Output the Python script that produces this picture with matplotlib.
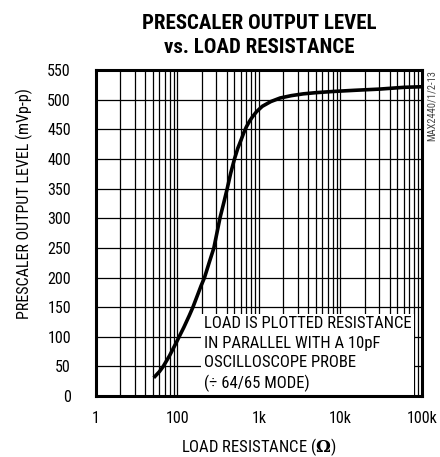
import matplotlib
matplotlib.use('Agg')
import matplotlib.pyplot as plt
from matplotlib import font_manager
from matplotlib.ticker import FixedLocator, NullFormatter

# narrow sans like the datasheet font; take the first one that is installed
installed = {f.name for f in font_manager.fontManager.ttflist}
narrow = [n for n in ['Liberation Sans Narrow', 'Arial Narrow', 'Roboto Condensed',
                      'Archivo Narrow', 'PT Sans Narrow', 'Asap Condensed']
          if n in installed]
plt.rcParams['font.family'] = narrow[:1] + ['DejaVu Sans']
plt.rcParams['mathtext.fontset'] = 'dejavuserif'

# curve (load resistance in ohms, output in mVp-p)
load_ohm = [53, 60, 67, 80, 95, 105, 120, 140, 155, 175, 195, 215, 245, 280,
            305, 332, 370, 408, 450, 501, 550, 603, 650, 700, 760, 830, 935,
            1100, 1400, 1820, 2500, 3500, 5000, 8100, 15000, 30000, 60000, 100000]
level_mv = [33, 41, 50, 68, 88, 100, 116, 136, 150, 169, 186, 200, 225, 250,
            275, 300, 326, 350, 376, 400, 418, 432, 444, 454, 463, 471, 480,
            489, 497, 503, 507, 510, 512, 514, 516, 518, 521, 522]

x_ticks = [10, 100, 1000, 10000, 100000]
x_ticklabels = ['1', '100', '1k', '10k', '100k']
y_ticks = list(range(0, 551, 50))

fig = plt.figure(figsize=(4.4, 4.57), dpi=100)
ax = fig.add_axes([0.218, 0.1335, 0.741, 0.713])

ax.plot(load_ohm, level_mv, color='black', lw=2.6, zorder=3)

ax.set_xscale('log')
ax.set_xlim(10, 100000)
ax.set_ylim(0, 550)
ax.xaxis.set_major_locator(FixedLocator(x_ticks))
ax.set_xticklabels(x_ticklabels)
ax.xaxis.set_minor_locator(FixedLocator(
    [m * d for d in [10, 100, 1000, 10000] for m in range(2, 10)]))
ax.xaxis.set_minor_formatter(NullFormatter())
ax.set_yticks(y_ticks)

ax.grid(True, which='both', color='black', lw=0.9)
ax.tick_params(which='both', length=0, labelsize=11.5)
ax.tick_params(axis='y', pad=18)
ax.tick_params(axis='x', pad=11)
for s in ax.spines.values():
    s.set_linewidth(2.2)
    s.set_zorder(5)

ax.set_xlabel('LOAD RESISTANCE ($\\mathbf{\\Omega}$)', fontsize=12, labelpad=7)
ax.set_ylabel('PRESCALER OUTPUT LEVEL (mVp-p)', fontsize=11.5)
ax.yaxis.set_label_coords(-0.193, 0.592)
ax.set_title('PRESCALER OUTPUT LEVEL\nvs. LOAD RESISTANCE', fontsize=15,
             fontweight='bold', pad=12, linespacing=1.35)

ax.text(210, 6, 'LOAD IS PLOTTED RESISTANCE\nIN PARALLEL WITH A 10pF\n'
        'OSCILLOSCOPE PROBE\n(\u00f7 64/65 MODE)', fontsize=12, ha='left',
        va='bottom', linespacing=1.37, zorder=4,
        bbox=dict(facecolor='white', edgecolor='none', pad=2))

fig.text(0.982, 0.847, 'MAX2440/1/2-13', rotation=90, fontsize=7.5,
         ha='center', va='top', color='#444444')

fig.savefig('out.png', dpi=100)
